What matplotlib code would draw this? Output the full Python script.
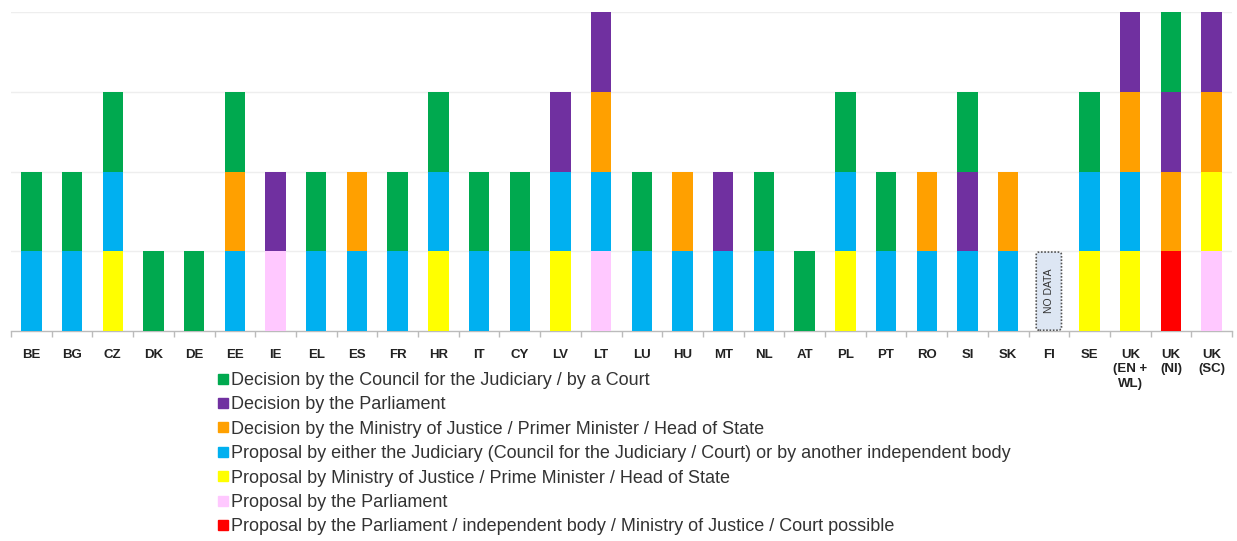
import matplotlib
matplotlib.use("Agg")
import matplotlib.pyplot as plt
from matplotlib.lines import Line2D
from matplotlib.patches import FancyBboxPatch
from matplotlib import font_manager
import numpy as np

categories = ['BE', 'BG', 'CZ', 'DK', 'DE', 'EE', 'IE', 'EL', 'ES', 'FR', 'HR', 'IT', 'CY', 'LV', 'LT',
              'LU', 'HU', 'MT', 'NL', 'AT', 'PL', 'PT', 'RO', 'SI', 'SK', 'FI', 'SE',
              'UK\n(EN +\nWL)', 'UK\n(NI)', 'UK\n(SC)']

#                     BE BG CZ DK DE EE IE EL ES FR HR IT CY LV LT LU HU MT NL AT PL PT RO SI SK FI SE EW NI SC
prop_parliament   = [0, 0, 0, 0, 0, 0, 1, 0, 0, 0, 0, 0, 0, 0, 1, 0, 0, 0, 0, 0, 0, 0, 0, 0, 0, 0, 0, 0, 0, 1]
prop_possible     = [0, 0, 0, 0, 0, 0, 0, 0, 0, 0, 0, 0, 0, 0, 0, 0, 0, 0, 0, 0, 0, 0, 0, 0, 0, 0, 0, 0, 1, 0]
prop_ministry     = [0, 0, 1, 0, 0, 0, 0, 0, 0, 0, 1, 0, 0, 1, 0, 0, 0, 0, 0, 0, 1, 0, 0, 0, 0, 0, 1, 1, 0, 1]
prop_judiciary    = [1, 1, 1, 0, 0, 1, 0, 1, 1, 1, 1, 1, 1, 1, 1, 1, 1, 1, 1, 0, 1, 1, 1, 1, 1, 0, 1, 1, 0, 0]
dec_ministry      = [0, 0, 0, 0, 0, 1, 0, 0, 1, 0, 0, 0, 0, 0, 1, 0, 1, 0, 0, 0, 0, 0, 1, 0, 1, 0, 0, 1, 1, 1]
dec_parliament    = [0, 0, 0, 0, 0, 0, 1, 0, 0, 0, 0, 0, 0, 1, 1, 0, 0, 1, 0, 0, 0, 0, 0, 1, 0, 0, 0, 1, 1, 1]
dec_council       = [1, 1, 1, 1, 1, 1, 0, 1, 0, 1, 1, 1, 1, 0, 0, 1, 0, 0, 1, 1, 1, 1, 0, 1, 0, 0, 1, 0, 1, 0]

no_data = ['FI']

labels = {
    'dec_council': 'Decision by the Council for the Judiciary / by a Court',
    'dec_parliament': 'Decision by the Parliament',
    'dec_ministry': 'Decision by the Ministry of Justice / Primer Minister / Head of State',
    'prop_judiciary': 'Proposal by either the Judiciary (Council for the Judiciary / Court) or by another independent body',
    'prop_ministry': 'Proposal by Ministry of Justice / Prime Minister / Head of State',
    'prop_parliament': 'Proposal by the Parliament',
    'prop_possible': 'Proposal by the Parliament / independent body / Ministry of Justice / Court possible',
}
colors = {
    'dec_council': '#00A94F',
    'dec_parliament': '#7030A0',
    'dec_ministry': '#FFA000',
    'prop_judiciary': '#00B0F0',
    'prop_ministry': '#FFFF00',
    'prop_parliament': '#FFC8FF',
    'prop_possible': '#FF0000',
}
series = {
    'prop_parliament': prop_parliament,
    'prop_possible': prop_possible,
    'prop_ministry': prop_ministry,
    'prop_judiciary': prop_judiciary,
    'dec_ministry': dec_ministry,
    'dec_parliament': dec_parliament,
    'dec_council': dec_council,
}
stack_order = ['prop_parliament', 'prop_possible', 'prop_ministry', 'prop_judiciary',
               'dec_ministry', 'dec_parliament', 'dec_council']
legend_order = ['dec_council', 'dec_parliament', 'dec_ministry', 'prop_judiciary',
                'prop_ministry', 'prop_parliament', 'prop_possible']

avail = {f.name for f in font_manager.fontManager.ttflist}
narrow = 'Liberation Sans Narrow' if 'Liberation Sans Narrow' in avail else 'Liberation Sans'

fig = plt.figure(figsize=(12.37, 5.41), dpi=100)
ax = fig.add_axes([11 / 1237, (541 - 331) / 541, (1232 - 11) / 1237, (331 - 12) / 541])

x = np.arange(len(categories))
bottom = np.zeros(len(categories))
for key in stack_order:
    vals = np.array(series[key], dtype=float)
    ax.bar(x, vals, bottom=bottom, width=0.5, color=colors[key], linewidth=0, zorder=3)
    bottom += vals

for cat in no_data:
    i = categories.index(cat)
    box = FancyBboxPatch((i - 0.31, 0.01), 0.62, 0.98,
                         boxstyle="round,pad=0,rounding_size=0.08",
                         facecolor='#DDE6F3', edgecolor='#555555', linestyle=(0, (1, 1)),
                         linewidth=1.2, zorder=4, mutation_aspect=1 / 2.5)
    ax.add_patch(box)
    ax.text(i, 0.5, 'NO DATA', rotation=90, ha='center', va='center', fontsize=7.5,
            family=[narrow, 'DejaVu Sans'], color='#333333', zorder=5)

ax.set_xlim(-0.5, len(categories) - 0.5)
ax.set_ylim(0, 4)
ax.set_yticks([1, 2, 3, 4])
ax.yaxis.grid(True, color='#EEEEEE', linewidth=1.0, zorder=0)
ax.tick_params(axis='y', left=False, labelleft=False)
for s in ['top', 'right', 'left']:
    ax.spines[s].set_visible(False)
ax.spines['bottom'].set_color('#BBBBBB')
ax.spines['bottom'].set_linewidth(1.0)

ax.set_xticks(x)
ax.set_xticklabels(categories, fontsize=9.5, fontweight='bold', family=['Liberation Sans', 'DejaVu Sans'],
                   color='#222222', linespacing=1.25)
ax.tick_params(axis='x', length=0, pad=13)
ax.set_xticks(np.arange(len(categories) + 1) - 0.5, minor=True)
ax.tick_params(axis='x', which='minor', length=4, color='#BBBBBB', width=1.0)

handles = [Line2D([0], [0], marker='s', linestyle='none', markersize=6.5,
                  markerfacecolor=colors[k], markeredgecolor=colors[k]) for k in legend_order]
fig.legend(handles, [labels[k] for k in legend_order], loc='upper left',
           bbox_to_anchor=(219 / 1237, 1 - 372 / 541), frameon=False,
           prop={'family': [narrow, 'DejaVu Sans'], 'size': 13},
           handlelength=0.45, handletextpad=0.2, labelspacing=0.41, borderaxespad=0,
           borderpad=0, labelcolor='#333333')

fig.savefig('out.png', dpi=100, facecolor='white')
